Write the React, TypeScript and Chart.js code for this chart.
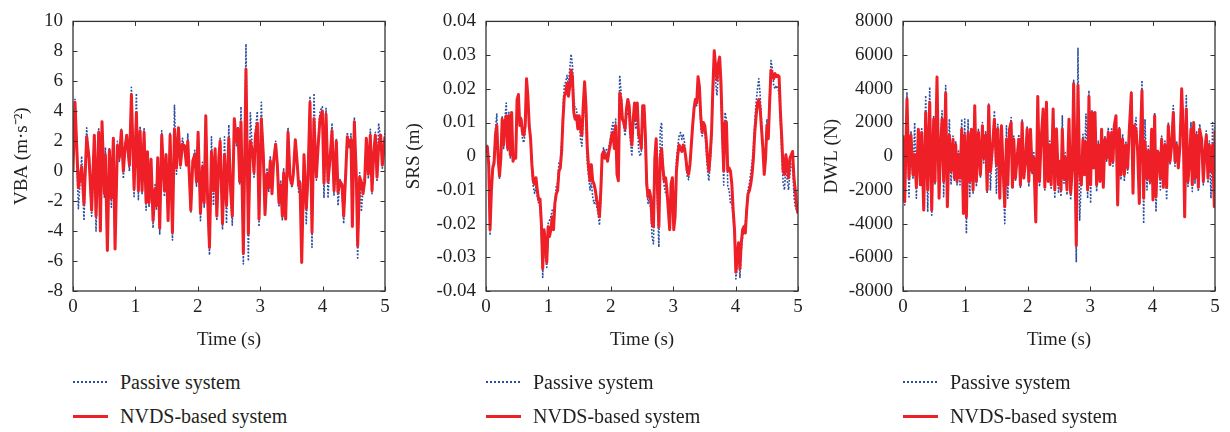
import React, { useEffect, useRef } from "react";
import { Chart, registerables } from "chart.js";

Chart.register(...registerables);

// ---------- Panel 1: VBA (m·s^-2) ----------
const vbaTime = [
  0, 0.032, 0.086, 0.139, 0.176, 0.219, 0.257, 0.299, 0.342, 0.369,
  0.412, 0.439, 0.465, 0.503, 0.519, 0.551, 0.583, 0.615, 0.647, 0.674,
  0.711, 0.743, 0.775, 0.807, 0.834, 0.861, 0.904, 0.936, 0.979, 1.016,
  1.048, 1.075, 1.107, 1.139, 1.171, 1.193, 1.219, 1.251, 1.283, 1.316,
  1.337, 1.358, 1.39, 1.422, 1.465, 1.492, 1.524, 1.556, 1.594, 1.626,
  1.658, 1.69, 1.722, 1.754, 1.786, 1.818, 1.84, 1.888, 1.92, 1.952,
  1.979, 2.005, 2.043, 2.075, 2.102, 2.128, 2.155, 2.187, 2.219, 2.251,
  2.278, 2.305, 2.337, 2.358, 2.396, 2.428, 2.46, 2.497,
  2.527, 2.553, 2.585, 2.618, 2.644, 2.671, 2.692, 2.73, 2.772, 2.81,
  2.842, 2.879, 2.901, 2.922, 2.954, 2.981, 3.018, 3.05, 3.077, 3.109,
  3.136, 3.162, 3.189, 3.216, 3.248, 3.275, 3.301, 3.328, 3.355, 3.376,
  3.408, 3.446, 3.478, 3.51, 3.531, 3.563, 3.595, 3.617, 3.638, 3.665,
  3.702, 3.739, 3.766, 3.798, 3.83, 3.862, 3.9, 3.926, 3.958, 3.996,
  4.022, 4.055, 4.087, 4.124, 4.151, 4.183, 4.22, 4.247, 4.279, 4.311,
  4.338, 4.37, 4.396, 4.428, 4.455, 4.477, 4.509, 4.541, 4.562, 4.594,
  4.621, 4.648, 4.674, 4.701, 4.733, 4.765, 4.792, 4.818, 4.845, 4.872,
  4.898, 4.931, 4.957, 5.0,
];
const vbaNvds = [
  0, 4.6, -1.1, 0.3, -2.2, 2.3, 0.9, -2.6, 2.4, -3.0,
  2.6, -4.0, 3.3, -1.5, 1.1, -5.3, 1.4, -1.8, 2.2, -5.2,
  1.7, 0.9, 2.7, 0, 1.5, 2.4, 0.4, 5.1, -1.2, 3.9,
  -1.3, 2.7, -1.3, 2.6, -2.1, 1.3, -2.1, 0.8, -3.3, -1.2,
  -2.3, 0.9, -3.8, 2.4, -1.3, 1.1, -3.3, 2.4, -4.1, 2.8,
  0.2, 2.9, 0.4, 1.8, 1.7, 0.4, 2.0, -2.6, 0.7, 1.1,
  -0.7, 2.6, -2.8, 0.3, -2.1, 3.7, -1.5, -5.1, 1.3, -1.3,
  1.5, -3.0, 0.9, 2.0, -3.5, 1.1, -2.3, 2.2,
  -1.3, -3.0, 3.5, 2.0, 2.8, -0.7, 3.3, -5.5, 6.8, -4.2,
  2.0, 1.3, -0.1, 2.3, 3.2, -3.2, 3.5, 1.1, -2.9, -0.2,
  -1.1, 0.7, -1.5, 0.7, 1.8, 0.4, -2.1, -0.9, -3.0, -0.1,
  -3.2, 2.6, -0.4, -0.9, -0.2, 2.1, 0.4, -1.0, -0.8, -6.1,
  1.1, -2.5, -0.4, 4.6, -4.1, 3.5, -0.4, 1.5, 3.5, 4.0,
  -0.8, 3.8, -0.7, 1.1, 2.7, -1.3, 2.0, -1.4, -0.7, -0.9,
  -3.0, -0.2, 2.3, 1.7, 2.1, -3.7, 3.3, -0.4, -5.0, -0.4,
  -0.7, -1.5, -0.7, 2.2, -0.2, 2.4, -1.3, 1.1, 2.4, -0.4,
  1.7, 2.4, 0.4, 2.3,
];
const vbaPassive = [
  0.2, 4.8, -2.5, 1.0, -3.3, 2.9, 0.6, -3.0, 2.2, -4.0,
  2.9, -3.6, 3.1, -1.8, 1.6, -5.0, 1.6, -2.4, 2.1, -5.0,
  2.0, 0.6, 2.8, -0.5, 2.0, 2.2, 0.0, 5.6, -1.7, 5.2,
  -1.9, 3.0, -1.5, 2.9, -2.6, 1.0, -2.4, 0.6, -3.8, -0.9,
  -2.6, 0.7, -4.2, 2.7, -1.7, 1.2, -3.1, 2.6, -4.6, 4.4,
  -0.2, 2.6, 0.2, 2.2, 1.5, 0.5, 2.5, -2.8, 0.5, 1.4,
  -1.0, 2.4, -3.3, 0.6, -2.4, 3.5, -1.9, -5.6, 2.3, -2.3,
  1.3, -3.3, 0.7, 2.2, -3.9, 2.3, -3.5, 3.1,
  -1.6, -3.6, 3.2, 1.7, 3.0, -0.9, 4.3, -6.2, 8.5, -6.0,
  3.9, 1.0, -0.4, 2.6, 4.0, -3.7, 4.6, 0.8, -3.0, 0.2,
  -1.4, 1.0, -1.3, 0.9, 2.0, 0.2, -2.4, -0.6, -3.3, 0.2,
  -3.1, 2.9, -0.7, -1.1, 0.1, 2.0, 0.6, -1.4, -0.6, -5.8,
  1.2, -3.5, -0.1, 5.0, -5.1, 5.2, -0.6, 1.8, 4.0, 4.3,
  -1.8, 4.2, -1.8, 1.4, 3.2, -1.6, 2.2, -2.3, -0.5, -1.2,
  -3.5, 0.0, 2.6, 1.5, 2.5, -3.4, 3.6, -0.8, -5.9, -0.1,
  -2.7, -1.2, -0.5, 2.0, -0.5, 2.8, -1.5, 1.4, 2.6, -0.7,
  3.2, 2.1, 0.2, 2.7,
];

// ---------- Panel 2: SRS (m), evenly sampled over 0–5 s ----------
const srsNvds = [
  0.0014, 0.0028, -0.0024, -0.0218, -0.0102, -0.0035, -0.002, 0.0062, 0.0091, -0.0006,
  -0.0059, -0.0006, 0.011, 0.0033, 0.01, 0.012, 0.0023, 0.012, 0.0004, 0.013,
  -0.0015, 0.0, -0.0006, 0.0168, 0.0183, 0.0091, 0.011, 0.0071, 0.0062, 0.009,
  0.023, 0.0178, 0.009, 0.0052, -0.0025, -0.0073, -0.0083, -0.0064, -0.0102, -0.013,
  -0.0127, -0.0199, -0.0334, -0.0218, -0.0257, -0.0315, -0.0209, -0.0238, -0.0218, -0.018,
  -0.0218, -0.014, -0.0112, -0.0102, -0.0044, -0.0035, 0.0014, 0.011, 0.0178, 0.0187,
  0.0216, 0.0178, 0.0207, 0.0255, 0.0236, 0.013, 0.011, 0.012, 0.0081, 0.012,
  0.0081, 0.0062, 0.015, 0.0221, 0.015, 0.0023, -0.0035, -0.0073, -0.0025, -0.0073,
  -0.0083, -0.0102, -0.013, -0.015, -0.018, -0.0102, 0.0004, 0.0014, -0.0006, 0.0004,
  -0.0015, 0.0014, 0.0033, 0.0062, 0.0071, 0.0023, 0.0091, -0.0054, -0.0073, 0.0187,
  0.0168, 0.011, 0.01, 0.0081, 0.014, 0.0168, 0.015, 0.007, 0.0033, 0.011,
  0.0158, 0.011, 0.0158, 0.0062, 0.0052,
  0.0023, 0.015, 0.015, 0.0062, -0.0083, -0.0122, -0.0102, -0.0122, -0.02, -0.0209,
  -0.0006, 0.0052, -0.0102, -0.0209, -0.0006, 0.0023, -0.0035, -0.0073, -0.0064, -0.0102,
  -0.016, -0.0218, -0.0083, -0.0064, -0.0218, -0.018, -0.0044, 0.0004, 0.0033, 0.0023,
  0.0014, 0.0033, 0.0023, -0.0006, -0.0044, -0.0054, -0.0025, 0.0033, 0.0091, 0.014,
  0.0168, 0.0158, 0.0236, 0.0207, 0.012, 0.0071, 0.01, 0.0091, 0.0052, -0.0006,
  -0.0044, 0.0004, 0.0071, 0.0207, 0.0313, 0.0265, 0.0226, 0.0274, 0.0294, 0.0216,
  0.0071, -0.0044, 0.01, 0.01, -0.0044, -0.0035, -0.0044, -0.0083, -0.016, -0.0218,
  -0.0344, -0.0296, -0.0257, -0.0334, -0.0257, -0.0218, -0.0209, -0.0228, -0.016, -0.0112,
  -0.0102, -0.0083, -0.0054, -0.0006, 0.0071, 0.012, 0.0158, 0.0168, 0.014, 0.0081,
  0.0023, -0.0054, -0.0006, 0.0091, 0.0052, 0.0158, 0.0255, 0.0245, 0.023, 0.0245,
  0.0236, 0.024, 0.0236, 0.013, 0.0052, -0.0044, -0.0054, 0.0004, -0.0025, -0.0064,
  -0.0006, 0.0004, 0.0014, -0.0064, -0.0102, -0.015, -0.017,
];
const srsPassive = [
  0.001, 0.0032, -0.003, -0.0235, -0.008, -0.0025, -0.001, 0.008, 0.0125, -0.0015,
  -0.0065, 0.0005, 0.012, 0.002, 0.011, 0.0158, 0.0014, 0.013, -0.0005, 0.012,
  -0.001, 0.0005, -0.0005, 0.014, 0.017, 0.01, 0.0115, 0.005, 0.004, 0.007,
  0.021, 0.015, 0.01, 0.006, -0.005, -0.009, -0.011, -0.009, -0.012, -0.014,
  -0.015, -0.022, -0.036, -0.024, -0.03, -0.033, -0.02, -0.019, -0.018, -0.016,
  -0.017, -0.014, -0.009, -0.008, -0.002, -0.0015, 0.004, 0.014, 0.021, 0.022,
  0.024, 0.021, 0.026, 0.0303, 0.027, 0.017, 0.014, 0.014, 0.01, 0.011,
  0.005, 0.003, 0.011, 0.018, 0.01, -0.002, -0.006, -0.01, -0.008, -0.012,
  -0.014, -0.013, -0.015, -0.017, -0.0205, -0.013, -0.001, 0.0025, 0.001, 0.002,
  0.0005, 0.003, 0.005, 0.008, 0.01, 0.005, 0.011, -0.003, -0.004, 0.024,
  0.019, 0.012, 0.009, 0.006, 0.012, 0.013, 0.012, 0.004, 0.0, 0.009,
  0.013, 0.008, 0.012, 0.002, 0.0,
  0.001, 0.013, 0.012, 0.003, -0.01, -0.014, -0.012, -0.016, -0.024, -0.026,
  -0.003, 0.003, -0.015, -0.027, 0.008, 0.01, -0.006, -0.009, -0.011, -0.012,
  -0.014, -0.018, -0.012, -0.009, -0.02, -0.014, -0.001, 0.003, 0.006, 0.007,
  0.005, 0.0065, 0.004, -0.002, -0.006, -0.007, -0.003, 0.003, 0.009, 0.014,
  0.016, 0.015, 0.021, 0.019, 0.009, 0.006, 0.008, 0.008, 0.002, -0.004,
  -0.0073, -0.002, 0.005, 0.017, 0.027, 0.022, 0.018, 0.024, 0.026, 0.017,
  0.005, -0.0086, 0.013, 0.011, -0.009, -0.01, -0.014, -0.014, -0.018, -0.024,
  -0.0364, -0.033, -0.028, -0.036, -0.028, -0.024, -0.022, -0.02, -0.015, -0.01,
  -0.008, -0.005, -0.002, 0.003, 0.01, 0.016, 0.02, 0.023, 0.018, 0.01,
  0.003, -0.005, 0.001, 0.011, 0.005, 0.018, 0.0284, 0.026, 0.021, 0.02,
  0.021, 0.02, 0.019, 0.01, 0.0, -0.008, -0.01, -0.003, -0.007, -0.01,
  -0.005, -0.003, -0.002, -0.012, -0.015, -0.016, -0.017,
];

// ---------- Panel 3: DWL (N) ----------
const dwlTime = [
  0, 0.027, 0.064, 0.096, 0.128, 0.16, 0.187, 0.214, 0.246, 0.278,
  0.299, 0.332, 0.364, 0.396, 0.428, 0.46, 0.492, 0.513, 0.545, 0.578,
  0.599, 0.626, 0.652, 0.684, 0.711, 0.743, 0.77, 0.802, 0.824, 0.845,
  0.866, 0.888, 0.914, 0.941, 0.968, 0.989, 1.016, 1.043, 1.07, 1.096,
  1.123, 1.15, 1.176, 1.209, 1.241, 1.273, 1.294, 1.326, 1.348, 1.374,
  1.401, 1.433, 1.465, 1.497, 1.519, 1.551, 1.578, 1.604, 1.631, 1.658,
  1.679, 1.706, 1.733, 1.754, 1.775, 1.802, 1.829, 1.856, 1.882, 1.909,
  1.936, 1.963, 1.989, 2.016, 2.043, 2.07, 2.096, 2.128, 2.16, 2.187,
  2.214, 2.246, 2.273, 2.299, 2.326, 2.353, 2.374, 2.406, 2.433, 2.46,
  2.492,
  2.505, 2.532, 2.553, 2.58, 2.601, 2.628, 2.66, 2.687, 2.713, 2.735,
  2.756, 2.777, 2.804, 2.831, 2.858, 2.884, 2.906, 2.932, 2.959, 2.98,
  3.007, 3.029, 3.055, 3.077, 3.103, 3.13, 3.157, 3.183, 3.21, 3.237,
  3.264, 3.29, 3.317, 3.344, 3.365, 3.386, 3.413, 3.44, 3.467, 3.493,
  3.52, 3.547, 3.573, 3.6, 3.627, 3.659, 3.686, 3.707, 3.734, 3.76,
  3.787, 3.808, 3.83, 3.857, 3.878, 3.91, 3.931, 3.958, 3.985, 4.006,
  4.033, 4.054, 4.081, 4.102, 4.124, 4.145, 4.172, 4.198, 4.225, 4.252,
  4.279, 4.305, 4.332, 4.359, 4.385, 4.412, 4.439, 4.466, 4.492, 4.514,
  4.54, 4.567, 4.594, 4.615, 4.636, 4.658, 4.679, 4.706, 4.733, 4.754,
  4.786, 4.813, 4.839, 4.861, 4.888, 4.909, 4.936, 4.962, 4.989, 5.0,
];
const dwlNvds = [
  1240, -2700, 3400, -1300, 1240, -1100, 100, -1850, 1600, -1700,
  1400, -3200, 2600, -2000, 3200, -3200, 2200, -1500, 4700, -2500,
  300, 2200, -1500, 3750, -3000, 1240, -900, 1000, -1300, 660,
  -1500, 100, -1300, 1600, -3400, 1240, -3600, 1400, -1500, 1600,
  -2000, 3000, -1500, 1400, -1100, 1800, -100, 1240, -2000, 3000,
  -900, 460, 2200, -500, 1600, -2500, 1800, -700, -3000, 1000,
  -1700, 1600, 2000, -1850, 1000, -1300, -100, 1000, -1700, 2000,
  -1300, -300, 1600, -1500, 1600, -900, -100, -3900, 3550, -1500,
  1000, 2800, -1850, 3200, -1500, 660, -1700, 2800, -2000, 1600,
  -1700,
  -300, -2000, 1600, -1300, -100, -2000, 2200, -2200, -700, 4300,
  -100, -5300, 4200, -900, -1700, 1000, -1100, 850, -2000, 3550,
  -1700, 2600, -700, 2600, -1700, 660, -1500, 1600, -1850, 1000,
  -100, 1400, -500, 1400, -300, 1800, 2400, -2900, 1600, -1100,
  1000, -1100, 660, -700, 1600, 3750, -2200, 1800, 1600, 300,
  -2800, 1400, 3900, -2500, 850, -1300, 300, -1500, 1600, -2600,
  2400, -2400, 300, -100, -1300, 1000, -1850, 660, -1850, 1800,
  -300, 660, 2600, -300, 660, -700, 660, 4000, 1400, -3600,
  2800, -1500, -100, 1600, -1700, 2000, -1300, 1240, -1850, 1600,
  1000, -1500, 300, 1240, -1300, 660, -900, 660, -3000, 1550,
];
const dwlPassive = [
  1000, -2900, 3800, -2500, 1500, -1300, 2000, -2500, 1300, -1500,
  1700, -3000, 3600, -3300, 4100, -3500, 2400, -1700, 4400, -2300,
  600, 2700, -2400, 4200, -3000, 2200, -1700, 1200, -1500, 900,
  -1700, 300, -1700, 2200, -3400, 2200, -4600, 2200, -2400, 1400,
  -2200, 3000, -1800, 1600, -1300, 2000, -400, 1500, -2200, 3100,
  -2000, 700, 2700, -2200, 1900, -2300, 1600, -900, -4000, 1800,
  -2500, 1400, 2300, -1700, 1200, -1500, 200, 1300, -1900, 2200,
  -1100, -500, 1800, -1800, 1400, -1100, 300, -3400, 3300, -1800,
  1200, 2600, -2000, 3000, -1300, 900, -1900, 2800, -2500, 1700,
  -2200,
  -500, -2400, 2400, -1600, 200, -2300, 2000, -2600, -900, 4500,
  300, -6300, 6400, -3800, -1400, 1300, -800, 2500, -2500, 3900,
  -2800, 2700, -500, 2300, -2100, 900, -1300, 1500, -1600, 1200,
  -300, 1700, -200, 1700, -600, 1500, 2200, -2600, 1700, -1400,
  1300, -1500, 900, -1000, 1400, 3800, -1800, 1600, 2300, 500,
  -2000, 1200, 4500, -4000, 2200, -2000, 600, -1700, 1400, -2300,
  2600, -3300, 100, 300, -2000, 1200, -1600, 900, -2600, 2000,
  -500, 800, 3000, -600, 900, -500, 1000, 3300, 1100, -3000,
  3600, -1800, 200, 2000, -2100, 1800, -1600, 1500, -2100, 1900,
  800, -1700, 600, 1500, -1600, 900, -2500, 2000, -2600, 1800,
];

const SERIES_NAMES = ["Passive system", "NVDS-based system"];
const X_TITLE = "Time (s)";
const RED = "#ee1f26";
const BLUE = "#2b4c9f";
const TEXT = "#231f20";
const FONT = "'Liberation Serif', 'Times New Roman', serif";

const PLOT_W = 312;
const RIGHT_PAD = 15;

const framePlugin = {
  id: "frameTicks",
  afterDraw(chart: any) {
    const { ctx, chartArea: a, scales } = chart;
    ctx.save();
    ctx.strokeStyle = "#333";
    ctx.lineWidth = 1.3;
    ctx.strokeRect(a.left, a.top, a.right - a.left, a.bottom - a.top);
    const L = 4.5;
    ctx.lineWidth = 1;
    ctx.beginPath();
    scales.x.ticks.forEach((t: any) => {
      const px = Math.round(scales.x.getPixelForValue(t.value)) + 0.5;
      ctx.moveTo(px, a.bottom);
      ctx.lineTo(px, a.bottom - L);
      ctx.moveTo(px, a.top);
      ctx.lineTo(px, a.top + L);
    });
    scales.y.ticks.forEach((t: any) => {
      const py = Math.round(scales.y.getPixelForValue(t.value)) + 0.5;
      ctx.moveTo(a.left, py);
      ctx.lineTo(a.left + L, py);
      ctx.moveTo(a.right, py);
      ctx.lineTo(a.right - L, py);
    });
    ctx.stroke();
    ctx.restore();
  },
};

type PanelProps = {
  left: number;
  axisW: number;
  titlePad: number;
  time: number[];
  passive: number[];
  nvds: number[];
  yMin: number;
  yMax: number;
  yStep: number;
  yTitle: string;
  fmt: (v: number) => string;
};

function Panel({ left, axisW, titlePad, time, passive, nvds, yMin, yMax, yStep, yTitle, fmt }: PanelProps) {
  const ref = useRef<HTMLCanvasElement | null>(null);
  const W = axisW + PLOT_W + RIGHT_PAD;
  useEffect(() => {
    const toPts = (vals: number[]) => vals.map((v, i) => ({ x: time[i], y: v }));
    const chart = new Chart(ref.current as HTMLCanvasElement, {
      type: "line",
      data: {
        datasets: [
          {
            label: SERIES_NAMES[1],
            data: toPts(nvds),
            borderColor: RED,
            backgroundColor: RED,
            borderWidth: 3,
            pointRadius: 0,
            tension: 0,
            borderJoinStyle: "round",
            order: 0,
          },
          {
            label: SERIES_NAMES[0],
            data: toPts(passive),
            borderColor: BLUE,
            backgroundColor: BLUE,
            borderWidth: 1.6,
            borderDash: [1.8, 1.6],
            pointRadius: 0,
            tension: 0,
            borderJoinStyle: "round",
            order: 1,
          },
        ],
      },
      options: {
        responsive: false,
        animation: false,
        events: [],
        layout: { padding: { top: 15, right: RIGHT_PAD, left: 0, bottom: 0 } },
        plugins: { legend: { display: false }, tooltip: { enabled: false } },
        scales: {
          x: {
            type: "linear",
            min: 0,
            max: 5,
            grid: { display: false, drawTicks: false },
            border: { display: false },
            ticks: {
              stepSize: 1,
              autoSkip: false,
              maxRotation: 0,
              padding: 5,
              color: TEXT,
              font: { family: FONT, size: 19 },
              callback: (v: any) => String(v),
            },
            title: {
              display: true,
              text: X_TITLE,
              color: TEXT,
              font: { family: FONT, size: 19 },
              padding: { top: 0, bottom: 9 },
            },
            afterFit: (s: any) => {
              s.height = 69;
            },
          },
          y: {
            min: yMin,
            max: yMax,
            grid: { display: false, drawTicks: false },
            border: { display: false },
            ticks: {
              stepSize: yStep,
              autoSkip: false,
              padding: 10,
              color: TEXT,
              font: { family: FONT, size: 19 },
              callback: (v: any) => fmt(Number(v)),
            },
            title: {
              display: true,
              text: yTitle,
              color: TEXT,
              font: { family: FONT, size: 19 },
              padding: { top: titlePad, bottom: 0 },
            },
            afterFit: (s: any) => {
              s.width = axisW;
            },
          },
        },
      },
      plugins: [framePlugin],
    } as any);
    return () => chart.destroy();
  }, []);
  return (
    <canvas
      ref={ref}
      width={W}
      height={360}
      style={{ position: "absolute", left, top: 0, width: W, height: 360 }}
    />
  );
}

function Legend({ left }: { left: number }) {
  const text: React.CSSProperties = {
    position: "absolute",
    left: left + 47,
    fontFamily: FONT,
    fontSize: 20,
    lineHeight: "24px",
    color: TEXT,
    whiteSpace: "nowrap",
  };
  return (
    <>
      <div
        style={{
          position: "absolute",
          left,
          top: 381,
          width: 35,
          height: 2,
          background: `repeating-linear-gradient(to right, ${BLUE} 0px, ${BLUE} 2px, transparent 2px, transparent 4px)`,
        }}
      />
      <div style={{ ...text, top: 370 }}>{SERIES_NAMES[0]}</div>
      <div style={{ position: "absolute", left, top: 415, width: 35, height: 3, background: RED }} />
      <div style={{ ...text, top: 404 }}>{SERIES_NAMES[1]}</div>
    </>
  );
}

const srsTime = srsNvds.map((_, i) => (i * 5) / (srsNvds.length - 1));

export default function App() {
  return (
    <div
      style={{
        position: "absolute",
        left: 0,
        top: 0,
        width: 1230,
        height: 432,
        background: "#fff",
        overflow: "hidden",
      }}
    >
      <Panel
        left={0}
        axisW={73}
        titlePad={10.6}
        time={vbaTime}
        passive={vbaPassive}
        nvds={vbaNvds}
        yMin={-8}
        yMax={10}
        yStep={2}
        yTitle="VBA (m·s⁻²)"
        fmt={(v) => String(Math.round(v))}
      />
      <Panel
        left={395}
        axisW={91}
        titlePad={7.6}
        time={srsTime}
        passive={srsPassive}
        nvds={srsNvds}
        yMin={-0.04}
        yMax={0.04}
        yStep={0.01}
        yTitle="SRS (m)"
        fmt={(v) => String(Math.round(v * 100) / 100 || 0)}
      />
      <Panel
        left={810}
        axisW={93}
        titlePad={10.6}
        time={dwlTime}
        passive={dwlPassive}
        nvds={dwlNvds}
        yMin={-8000}
        yMax={8000}
        yStep={2000}
        yTitle="DWL (N)"
        fmt={(v) => String(Math.round(v))}
      />
      <Legend left={73} />
      <Legend left={486} />
      <Legend left={903} />
    </div>
  );
}
